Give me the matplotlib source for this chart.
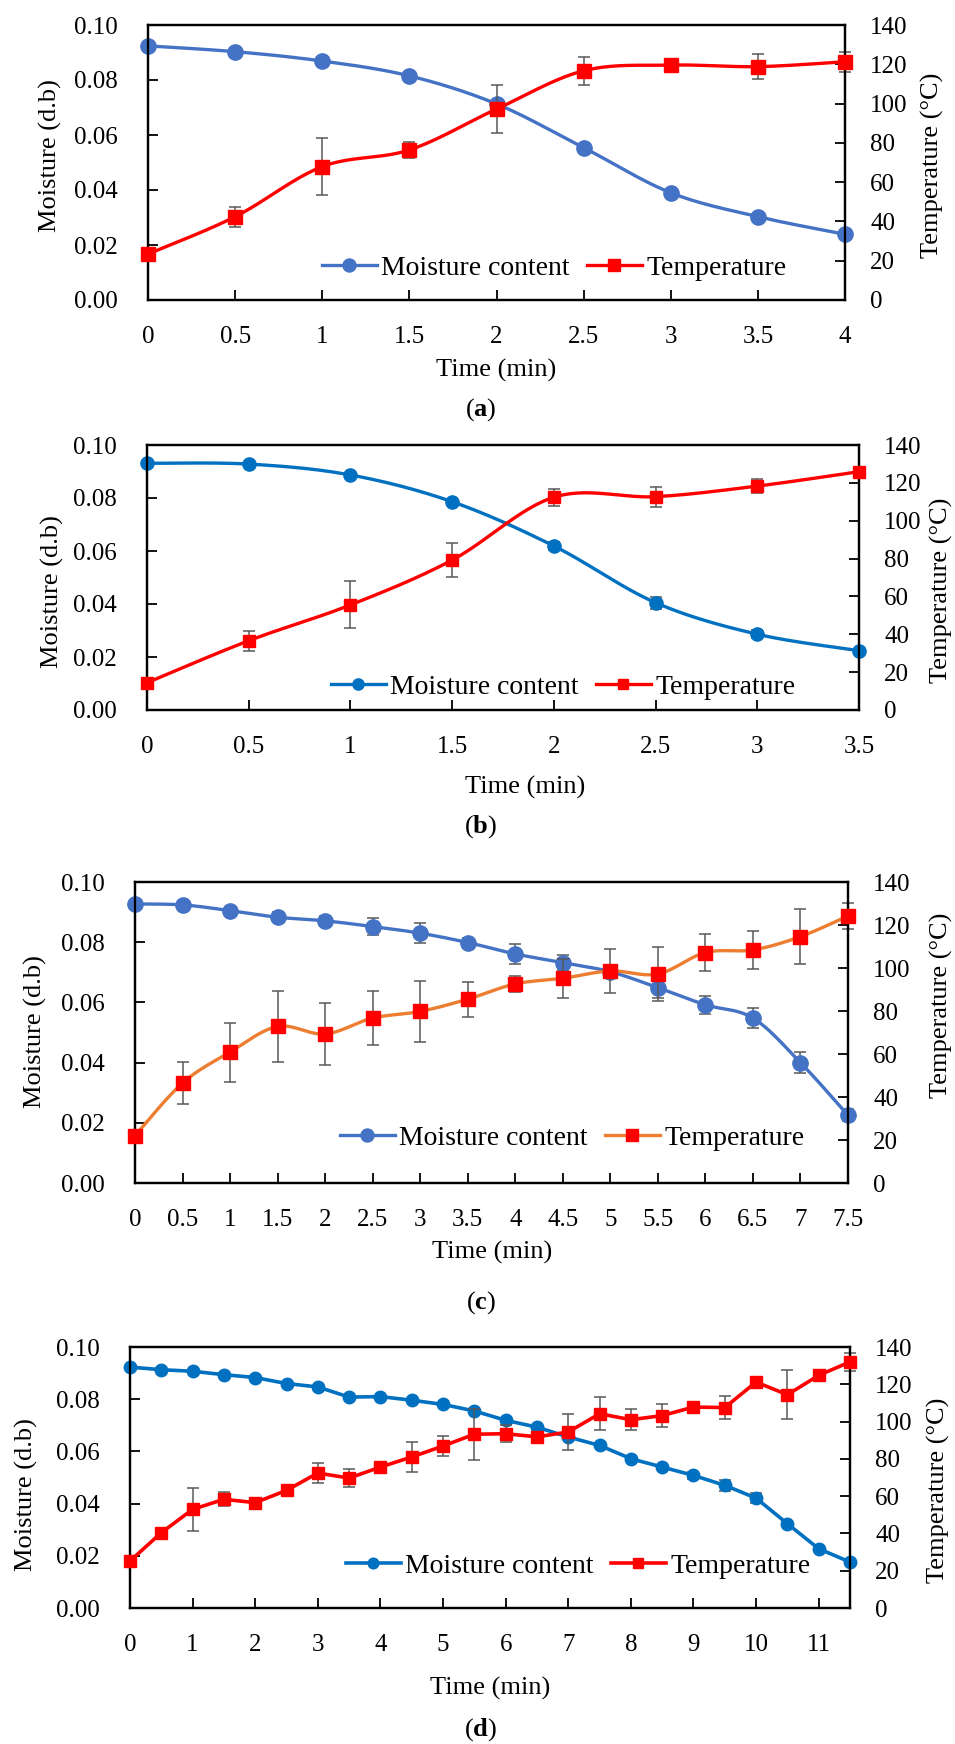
import numpy as np
import matplotlib
matplotlib.use("Agg")
import matplotlib.pyplot as plt
from matplotlib.lines import Line2D
from matplotlib.ticker import FormatStrFormatter, FuncFormatter

plt.rcParams["font.family"] = ["Liberation Serif", "DejaVu Serif"]
plt.rcParams["mathtext.fontset"] = "custom"
plt.rcParams["mathtext.rm"] = "Liberation Serif"
plt.rcParams["mathtext.bf"] = "Liberation Serif:bold"

# ---- (a) ----
time_a = [0, 0.5, 1, 1.5, 2, 2.5, 3, 3.5, 4]
moist_a = [0.0924, 0.0903, 0.0869, 0.0815, 0.0713, 0.0554, 0.0390, 0.0303, 0.0239]
moist_err_a = [0, 0, 0, 0, 0, 0, 0, 0, 0]
temp_a = [23.4, 42.4, 67.9, 76.4, 97.2, 116.7, 119.6, 118.8, 121.3]
temp_err_a = [0, 5.1, 14.6, 4.2, 12.0, 7.0, 0, 6.3, 5.0]

# ---- (b) ----
time_b = [0, 0.5, 1, 1.5, 2, 2.5, 3, 3.5]
moist_b = [0.0931, 0.0928, 0.0887, 0.0786, 0.0619, 0.0405, 0.0286, 0.0224]
moist_err_b = [0, 0, 0.0008, 0.0012, 0.0015, 0.0022, 0.0015, 0]
temp_b = [14.4, 36.6, 55.5, 79.2, 112.4, 112.7, 118.3, 125.9]
temp_err_b = [0, 5.3, 12.4, 9.2, 4.6, 5.3, 3.9, 0]

# ---- (c) ----
time_c = [0, 0.5, 1, 1.5, 2, 2.5, 3, 3.5, 4, 4.5, 5, 5.5, 6, 6.5, 7, 7.5]
moist_c = [0.0927, 0.0924, 0.0905, 0.0883, 0.0871, 0.0852, 0.0830, 0.0799,
           0.0761, 0.0732, 0.0702, 0.0649, 0.0592, 0.0548, 0.0400, 0.0225]
moist_err_c = [0.0008, 0.0008, 0.0010, 0.0017, 0.0015, 0.0029, 0.0033, 0.0015,
               0.0032, 0.0024, 0.0015, 0.0034, 0.0029, 0.0034, 0.0035, 0.0020]
temp_c = [22.0, 46.5, 60.9, 72.8, 69.3, 76.7, 79.8, 85.5,
          92.6, 95.2, 98.6, 97.2, 107.2, 108.4, 114.6, 124.2]
temp_err_c = [0, 9.9, 13.7, 16.6, 14.3, 12.5, 14.2, 8.1,
              3.8, 9.1, 10.3, 12.5, 8.5, 9.0, 12.9, 6.2]

# ---- (d) ----
time_d = [0, 0.5, 1, 1.5, 2, 2.5, 3, 3.5, 4, 4.5, 5, 5.5,
          6, 6.5, 7, 7.5, 8, 8.5, 9, 9.5, 10, 10.5, 11, 11.5]
moist_d = [0.0923, 0.0913, 0.0907, 0.0894, 0.0883, 0.0860, 0.0847, 0.0808,
           0.0810, 0.0796, 0.0780, 0.0755, 0.0719, 0.0693, 0.0655, 0.0623,
           0.0572, 0.0540, 0.0508, 0.0470, 0.0421, 0.0323, 0.0227, 0.0176]
moist_err_d = [0, 0, 0, 0, 0, 0, 0, 0, 0, 0, 0, 0,
               0, 0, 0, 0, 0, 0, 0.0012, 0.0022, 0.0020, 0.0010, 0, 0]
temp_d = [25.2, 40.4, 52.9, 58.3, 56.5, 63.1, 72.4, 69.7, 75.6, 81.0, 86.9, 93.2,
          93.5, 91.8, 94.4, 104.2, 101.0, 103.2, 107.8, 107.5, 121.2, 114.4, 124.8, 132.0]
temp_err_d = [0, 0, 11.4, 3.8, 0, 0, 5.5, 4.8, 0, 8.2, 5.4, 13.6,
              4.4, 0, 9.8, 8.8, 5.5, 6.3, 0, 6.3, 0, 13.1, 0, 4.7]

W, H = 955, 1744
BLUE1 = "#4472C4"
BLUE2 = "#0070C0"
RED = "#FF0000"
ORANGE = "#ED7D31"
GREY = "#595959"


def smooth(x, y, n=24):
    """Excel-style smoothed line: cubic Bezier through every point."""
    pts = np.column_stack([x, y]).astype(float)
    ext = np.vstack([pts[0], pts, pts[-1]])
    t = np.linspace(0, 1, n)[:, None]
    out = []
    for i in range(len(pts) - 1):
        p0, p1, p2, p3 = ext[i], ext[i + 1], ext[i + 2], ext[i + 3]
        c1 = p1 + (p2 - p0) / 6
        c2 = p2 - (p3 - p1) / 6
        seg = (1 - t) ** 3 * p1 + 3 * (1 - t) ** 2 * t * c1 + 3 * (1 - t) * t ** 2 * c2 + t ** 3 * p2
        out.append(seg if i == 0 else seg[1:])
    seg = np.vstack(out)
    return seg[:, 0], seg[:, 1]


def fx(x):
    return x / W


def fy(y):
    return 1 - y / H


fig = plt.figure(figsize=(W / 100, H / 100), dpi=100)

panels = [
    dict(t=time_a, m=moist_a, me=moist_err_a, T=temp_a, Te=temp_err_a,
         box=(148, 25, 845, 300), xmax=4, xstep=0.5, smooth=True,
         mcol=BLUE1, tline=RED, ms=11, lw=2.4,
         leg=(554, 268), ylab_l=(50, 156), ylab_r=(932, 165), xlab=(496, 370),
         cap=(481, 410), tag="a"),
    dict(t=time_b, m=moist_b, me=moist_err_b, T=temp_b, Te=temp_err_b,
         box=(147, 445, 859, 710), xmax=3.5, xstep=0.5, smooth=True,
         mcol=BLUE2, tline=RED, ms=9.5, lw=2.4,
         leg=(563, 687), ylab_l=(52, 592), ylab_r=(941, 590), xlab=(525, 787),
         cap=(481, 827), tag="b"),
    dict(t=time_c, m=moist_c, me=moist_err_c, T=temp_c, Te=temp_err_c,
         box=(135, 882, 848, 1183), xmax=7.5, xstep=0.5, smooth=True,
         mcol=BLUE1, tline=ORANGE, ms=11, lw=2.4,
         leg=(572, 1138), ylab_l=(35, 1032), ylab_r=(941, 1005), xlab=(492, 1252),
         cap=(481, 1303), tag="c"),
    dict(t=time_d, m=moist_d, me=moist_err_d, T=temp_d, Te=temp_err_d,
         box=(130, 1347, 850, 1608), xmax=11.5, xstep=1, smooth=False,
         mcol=BLUE2, tline=RED, ms=9, lw=2.6,
         leg=(578, 1566), ylab_l=(26, 1495), ylab_r=(938, 1490), xlab=(490, 1688),
         cap=(481, 1730), tag="d"),
]

for p in panels:
    l, t, r, b = p["box"]
    ax = fig.add_axes([fx(l), fy(b), (r - l) / W, (b - t) / H])
    ax2 = ax.twinx()
    ax.set_zorder(1)
    ax2.set_zorder(2)
    ax.patch.set_visible(False)

    # error bars first so markers sit on top
    ax.errorbar(p["t"], p["m"], yerr=p["me"], fmt="none", ecolor=GREY,
                elinewidth=1.1, capsize=4.5, capthick=1.1, zorder=1, clip_on=False)
    ax2.errorbar(p["t"], p["T"], yerr=p["Te"], fmt="none", ecolor=GREY,
                 elinewidth=1.1, capsize=4.5, capthick=1.1, zorder=1, clip_on=False)

    if p["smooth"]:
        mx, my = smooth(p["t"], p["m"])
        tx, ty = smooth(p["t"], p["T"])
    else:
        mx, my = p["t"], p["m"]
        tx, ty = p["t"], p["T"]
    ax.plot(mx, my, color=p["mcol"], lw=p["lw"], zorder=2, clip_on=False,
            solid_capstyle="round")
    ax.plot(p["t"], p["m"], ls="none", marker="o", ms=p["ms"], color=p["mcol"],
            zorder=3, clip_on=False)
    ax2.plot(tx, ty, color=p["tline"], lw=p["lw"], zorder=2, clip_on=False,
             solid_capstyle="round")
    ax2.plot(p["t"], p["T"], ls="none", marker="s", ms=p["ms"] * 0.92, color=RED,
             zorder=3, clip_on=False)

    ax.set_xlim(0, p["xmax"])
    ax.set_ylim(0, 0.10)
    ax2.set_ylim(0, 140)
    ax.set_xticks(np.arange(0, p["xmax"] + 1e-9, p["xstep"]))
    ax.set_yticks(np.arange(0, 0.1001, 0.02))
    ax2.set_yticks(np.arange(0, 141, 20))
    ax.xaxis.set_major_formatter(FuncFormatter(lambda v, pos: f"{v:g}"))
    ax.yaxis.set_major_formatter(FormatStrFormatter("%.2f"))

    ax.tick_params(axis="x", direction="in", length=7, width=1.3, labelsize=18, pad=19)
    ax.tick_params(axis="y", direction="in", length=7, width=1.3, labelsize=18, pad=22)
    ax2.tick_params(axis="y", direction="in", length=7, width=1.3, labelsize=18, pad=18)
    for a in (ax, ax2):
        for s in a.spines.values():
            s.set_linewidth(1.6)
            s.set_color("black")

    handles = [
        Line2D([], [], color=p["mcol"], lw=p["lw"], marker="o", ms=p["ms"] * 0.85),
        Line2D([], [], color=p["tline"], lw=p["lw"], marker="s", ms=p["ms"] * 0.8,
               markerfacecolor=RED, markeredgecolor=RED),
    ]
    lx, ly = p["leg"]
    ax2.legend(handles, ["Moisture content", "Temperature"], loc="center",
               bbox_to_anchor=((lx - l) / (r - l), (b - ly) / (b - t)),
               ncol=2, frameon=False, fontsize=20, handlelength=2.0,
               handletextpad=0.15, columnspacing=0.6, borderpad=0, borderaxespad=0)

    x0, y0 = p["ylab_l"]
    fig.text(fx(x0), fy(y0), "Moisture (d.b)", rotation=90, ha="center", va="center",
             fontsize=19)
    x1, y1 = p["ylab_r"]
    fig.text(fx(x1), fy(y1), "Temperature (°C)", rotation=90, ha="center", va="center",
             fontsize=19)
    xl, yl = p["xlab"]
    fig.text(fx(xl), fy(yl), "Time (min)", ha="center", va="center", fontsize=19)
    cx, cy = p["cap"]
    fig.text(fx(cx), fy(cy), "($\\mathbf{" + p["tag"] + "}$)", ha="center", va="center",
             fontsize=19)

fig.savefig("out.png", dpi=100)
